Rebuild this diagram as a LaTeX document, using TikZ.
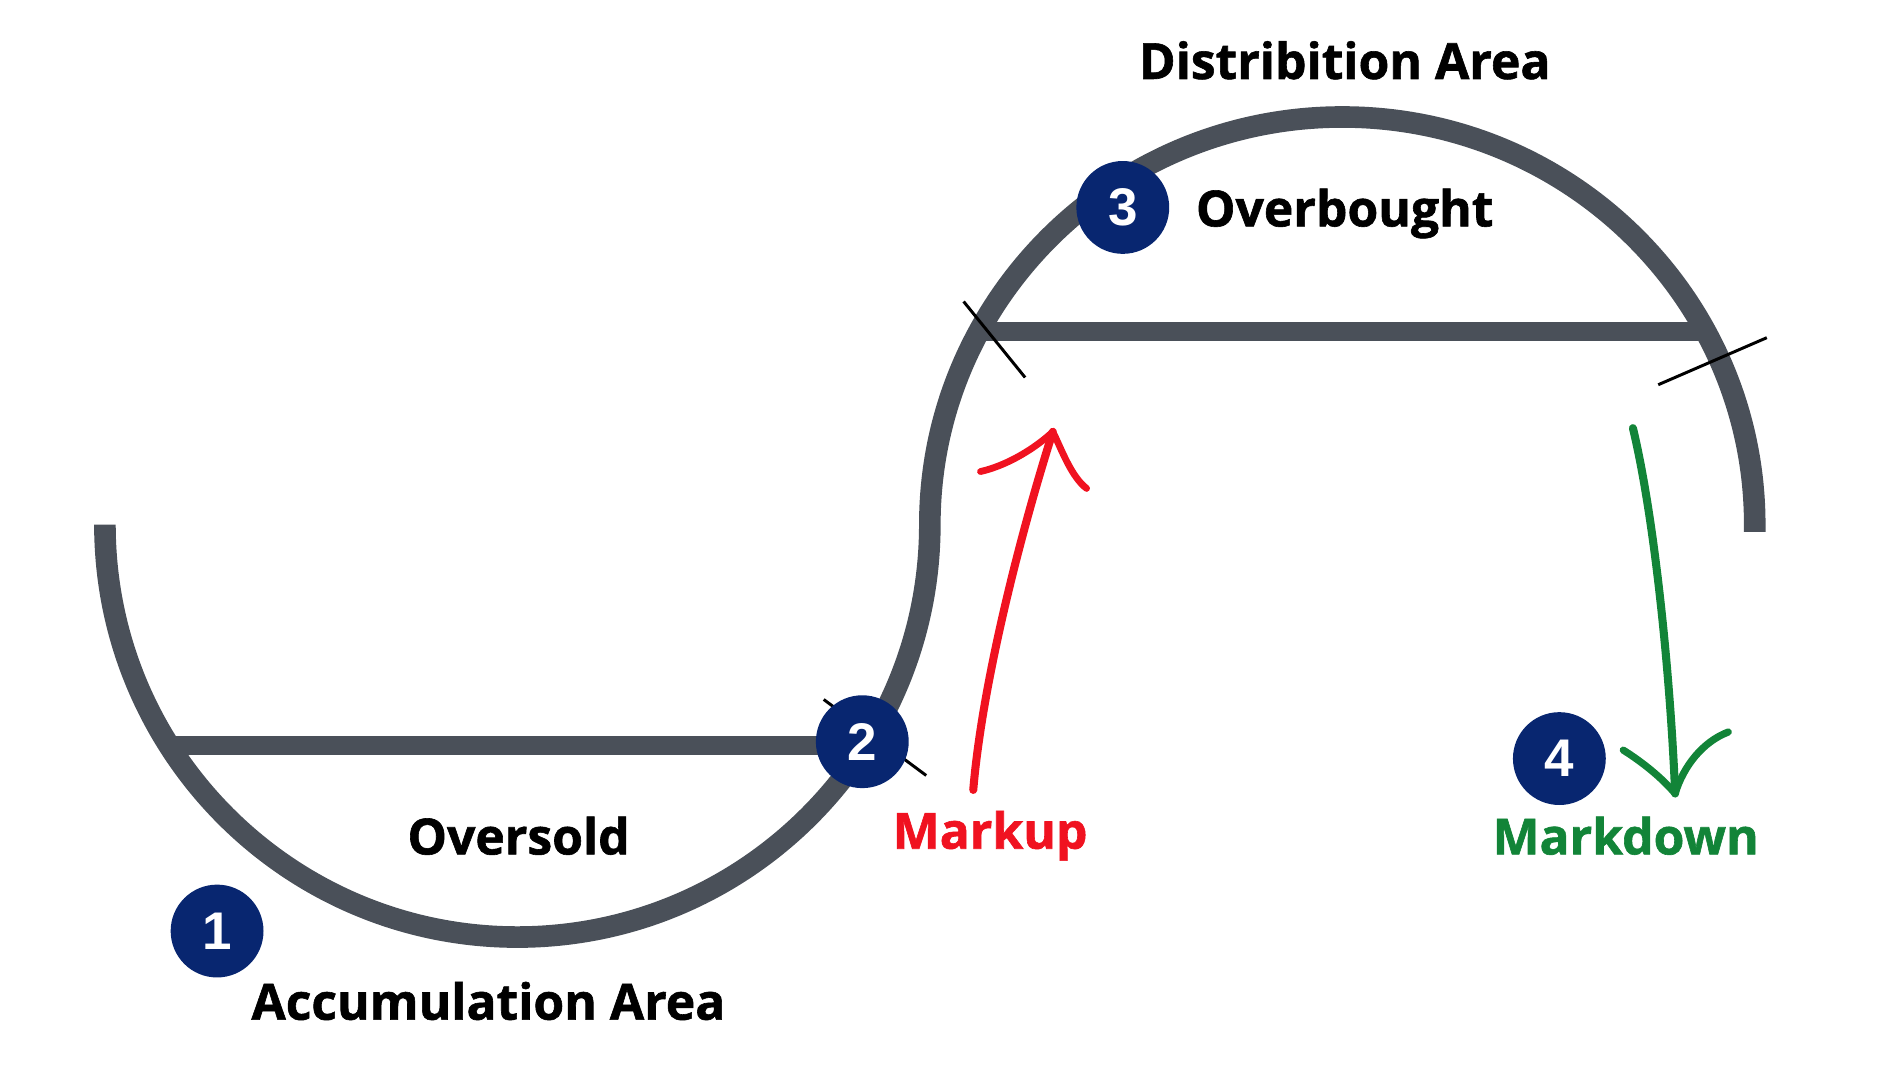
\documentclass[tikz,border=0pt]{standalone}
\usepackage{fontspec}
\setmainfont{Open Sans}
\newfontfamily\heavyfont{Open Sans}[FakeBold=1.2]
\newfontfamily\numfont{Liberation Sans}
\definecolor{curvegray}{RGB}{74,80,89}
\definecolor{navy}{RGB}{8,38,112}
\definecolor{upred}{RGB}{240,18,32}
\definecolor{downgreen}{RGB}{18,132,56}
\tikzset{
  curve/.style={draw=curvegray, line width=10.2pt, line cap=butt},
  level/.style={draw=curvegray, line width=9pt, line cap=butt},
  tick/.style={draw=black, line width=1.4pt},
  num/.style={circle, fill=navy, minimum size=1.54cm, inner sep=0pt, text=white, font=\numfont\bfseries\fontsize{25}{28}\selectfont},
  lbl/.style={font=\heavyfont\bfseries\fontsize{23.5}{27}\selectfont, inner sep=0pt},
  hand/.style={line width=3.8pt, line cap=round, line join=round},
}
\begin{document}
\begin{tikzpicture}[x=0.02cm, y=0.02cm]
\useasboundingbox (0,0) rectangle (1568,-896);
% level lines
\coordinate (bl) at (140,-618);
\coordinate (br) at (715,-618);
\coordinate (tl) at (812,-275);
\coordinate (tr) at (1414,-275);
\draw[level] (bl) -- (br);
\draw[level] (tl) -- (tr);
% main curve
\coordinate (start) at (87,-435);
\draw[curve] (start) arc[start angle=180, end angle=360, radius=342]
  arc[start angle=180, end angle=0, x radius=342, y radius=338]
  -- ++(0,-6);
% ticks
\coordinate (t1a) at (799,-250); \coordinate (t1b) at (850,-313);
\coordinate (t2a) at (1375,-319); \coordinate (t2b) at (1465,-280);
\coordinate (t3a) at (683,-580); \coordinate (t3b) at (768,-643);
\draw[tick] (t1a) -- (t1b);
\draw[tick] (t2a) -- (t2b);
\draw[tick] (t3a) -- (t3b);
% markup arrow
\coordinate (ru0) at (807,-655);
\coordinate (ru1) at (873,-358);
\coordinate (rbl) at (813,-391);
\coordinate (rbr) at (901,-405);
\draw[hand, upred] (ru0) .. controls (815,-560) and (850,-430) .. (ru1);
\draw[hand, upred, line width=3.2pt] (rbl) .. controls (835,-386) and (858,-372) .. (ru1)
  .. controls (880,-372) and (888,-395) .. (rbr);
% markdown arrow
\coordinate (gd0) at (1354,-355);
\coordinate (gd1) at (1389,-658);
\coordinate (gbl) at (1346,-622);
\coordinate (gbr) at (1433,-607);
\draw[hand, downgreen] (gd0) .. controls (1372,-430) and (1385,-560) .. (gd1);
\draw[hand, downgreen, line width=3.4pt] (gbl) .. controls (1362,-632) and (1378,-645) .. (gd1)
  .. controls (1396,-635) and (1412,-615) .. (gbr);
% number badges
\node[num] (n1) at (180,-772) {1};
\node[num] (n2) at (715,-615) {2};
\node[num] (n3) at (931,-172) {3};
\node[num] (n4) at (1293,-629) {4};
% labels
\node[lbl] (acc) at (405,-830) {Accumulation Area};
\node[lbl] (os) at (430,-693) {Oversold};
\node[lbl] (dist) at (1115,-50) {Distribition Area};
\node[lbl] (ob) at (1115,-177) {Overbought};
\node[lbl, text=upred] (mu) at (821,-693) {Markup};
\node[lbl, text=downgreen] (md) at (1348,-693) {Markdown};
\end{tikzpicture}
\end{document}
